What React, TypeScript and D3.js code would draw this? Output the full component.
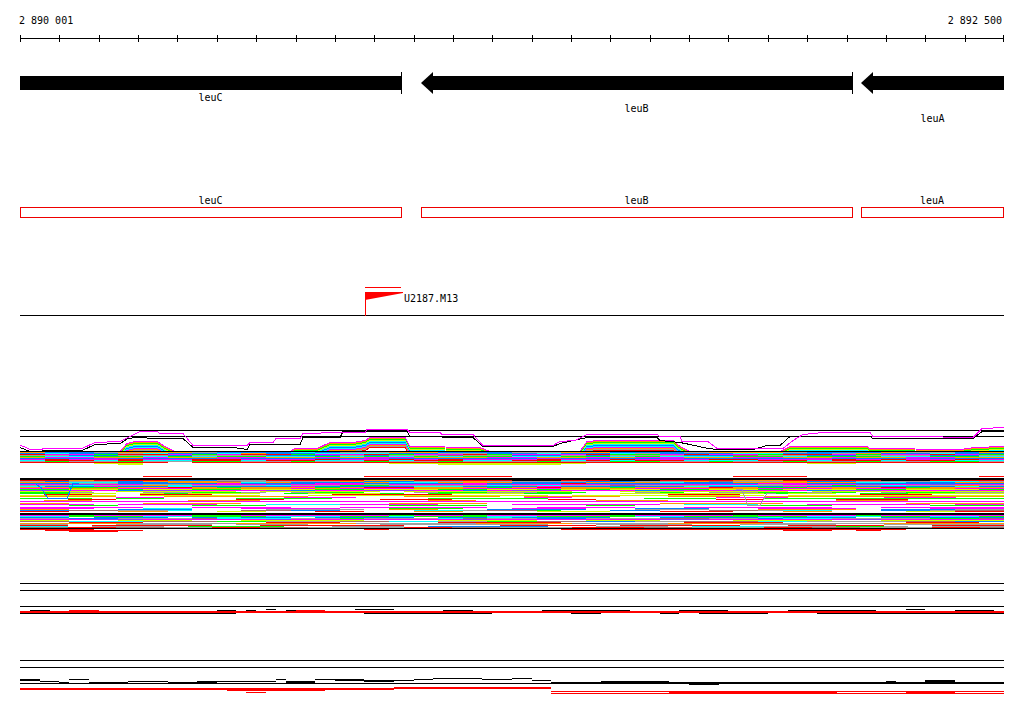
import React, { useEffect, useRef } from 'react';
import * as d3 from 'd3';

const START = 2890001;
const END = 2892500;
const TICK_STEP = 100;
const rulerLabels = ['2 890 001', '2 892 500'];

// genes (all on the minus strand, leuC / leuA run past the window)
const geneNames = ['leuC', 'leuB', 'leuA'];
const geneStarts = [2889550, 2891020, 2892138];
const geneEnds = [2890969, 2892115, 2893100];
const geneLabelRows = [0, 1, 2];

const featureName = 'U2187.M13';
const featureStart = 2890878;
const featureEnd = 2890970;

const COLORS: Record<string, string> = {
  k: '#000000',
  r: '#ff0000',
  g: '#00ff00',
  b: '#0080ff',
  m: '#ff00ff',
  c: '#00ffff',
  o: '#ff9900',
  y: '#ccff00',
  a: '#a0a0a0',
  n: '#a06a6a',
  p: '#9933ff',
};

// alignment profile lines: [bp offset from START, depth]
const guideTop = [[0, 4], [2500, 4]];
const guideSecond = [[0, 10], [2500, 10]];
const envMagenta = [
  [0, 19], [10, 20], [25, 23], [51, 23], [64, 22], [158, 22], [191, 16], [254, 15], [279, 10], [305, 5],
  [348, 5], [356, 7], [414, 7], [440, 19], [577, 19], [584, 16], [643, 16], [650, 12], [711, 12], [719, 7],
  [762, 7], [767, 6], [877, 6], [882, 3], [983, 3], [991, 6], [1067, 6], [1072, 8], [1151, 8], [1176, 19],
  [1354, 19], [1372, 15], [1410, 14], [1441, 8], [1618, 8], [1626, 10], [1677, 10], [1682, 15], [1748, 15],
  [1771, 22], [1939, 22], [1964, 14], [1989, 8], [2040, 6], [2160, 6], [2167, 10], [2269, 10], [2421, 11],
  [2444, 2], [2500, 1],
];
const envBlack = [
  [0, 21], [25, 25], [51, 25], [64, 24], [158, 24], [191, 18], [254, 17], [274, 12], [297, 11], [348, 12],
  [414, 12], [440, 21], [541, 21], [577, 23], [584, 18], [711, 18], [719, 11], [813, 11], [821, 5], [983, 5],
  [991, 10], [1151, 11], [1176, 20], [1354, 20], [1372, 17], [1441, 11], [1618, 11], [1626, 14], [1677, 16],
  [1702, 18], [1748, 22], [1771, 23], [1862, 23], [1898, 19], [1931, 19], [1956, 10], [2160, 10], [2167, 12],
  [2421, 12], [2444, 5], [2500, 5],
];
const envLower = [
  [0, 25], [254, 25], [272, 17], [292, 15], [348, 15], [368, 20], [394, 25], [686, 25], [699, 22], [755, 22],
  [788, 16], [846, 16], [877, 14], [889, 11], [978, 11], [991, 20], [1169, 21], [1194, 25], [1423, 25],
  [1441, 15], [1474, 14], [1659, 14], [1677, 20], [1702, 25], [1931, 25], [1956, 20], [2152, 20], [2160, 22],
  [2388, 23], [2426, 21], [2500, 20],
];
const humpColors = ['o', 'g', 'y', 'c', 'b', 'c', 'm', 'o', 'a', 'r'];
const blueDip = [[40, 58], [53, 61], [71, 72], [119, 72], [135, 57], [150, 57]];
const grayDip = [[1820, 63], [1834, 63], [1850, 79], [1880, 79], [1898, 67], [1920, 67]];

// alignment stripes, one string per pixel row from depth 25 down
const alnRows = [
  'k',
  'obbaoooabbbcbaaoobbbaaoobbbaoooabbboaabo',
  'bcbbacbbcobbcccbbaabbcbbcabbbccbbaobbcbb',
  'rmmgrrmgmrrgmmrgmmrgmmmrggmrmmgrrmgmmrmg',
  'aabbaabaaabbbabaanaabbabaaabbnaabbaaabba',
  'gccggcgcggccgcgcgcggccggcgcccggcgggccggc',
  'ommoomoommoomommooommoomommoommoomoommoo',
  'bbbpbbbbpbbbbbpbbbbbbpbbbbpbbbbbpbbbpbbb',
  'mrmmrmmrrmmmrmmrmrmmmrmmrmmmrrmmmrmrmmrm',
  'crrcrccrrcrrccrcrrccrrcrcrrcccrrcrrcrrcc',
  'agaagaaggaagaagaagaaagaaggaagaagaagaagga',
  'rrrrrr.rrrrrrrrrrrrrrrrrrrrrrrrrrrrrrrrr',
  '...yy..........yyyyyyyy.........yy......',
  '....y............yyyyy..................',
  '', '', '', '', '', '', '', '', '', '', '',
  '.....rr.......rrrrrr.........rrr.......r',
  '',
  'k',
  'k',
  'rrorrrbbaarrrroorrrrkkrrkkrrroorrrrkkrrr',
  'abaabooonaaaaobbaaoaaaabbaaonaaobbaaacca',
  'ooccbbooocobbboccooobbbooocbboooooccbboo',
  'bbaabbbbmbbbmmbbbbmbbbrbbbbbbbmmbbbbbbbb',
  'mmpmmaammmpmmmammmmpmmmmppmmmmammmpmmpmm',
  'aacaaocaaacaaggaaaacacaanaaaccaaagacaaoa',
  'cbbmbbcbbbbmbbbbccbbbmbbbbbcbbbmbbbbbbcb',
  'ooggoorogooogorrooogoroogoooroggooorgooo',
  'mmoommmoooomommmoommmmooommmoommmommoomm',
  'ggyygyyggyyyggyyyggyygygyyggyygyyyggyyyg',
  'ppmmbppmmmpbmmppmmbmppmmmbpmmpmmbppmmmpm',
  'yyy.yyyyy.yyyyy.yyyyyyy..yyyyyyy.yyyyyyyy',
  'gga..aagga.agg..aggaagg..ag.aaggag.aggaa',
  'ggyy.ygyyy.gyyyg.gyyygg..yyyyyygyy.ggyyyy',
  '.rr..rrr.....rrrrr.........rrr.....rrr...',
  'yyyy.yyyyy..yyyyyyyyyy.yyyyyyyy.yyyyyyyyy',
  'oooo..oooooo....oooo.oooo..ooo.oooooooooo',
  '....mm.....mmm.......mm......mmm....mmm..',
  'ggg.gg...gggg....ggggg....ggg..gggggggggg',
  '..rr.....rr....rrr....rr.....rr...rrr....',
  '.oo....ooo.......oo.....ooo.......ooo....',
  'mmmmmmmmmmmmmmmmmmmmmmmmmmmmmmmmmmmmmmmm',
  '',
  'oo...oooo......oooo.......ooooo.....oooo',
  'mmm.mmmm..cccmmmm...mmmmmm.ccc..mmmmm.mm',
  '..gg...ggg.....gggg....gg.....ggg....ggg',
  '',
  'mmmmm..mmmm..mmmmmm..mmmm..mmmmmm..mmmmm',
  'mmm..cc..mmmm..ggg..mmm..bbb..mmmm...mmm',
  'oo..bbb...aaaa.oo..bbbb..aaa..oooo.bbbaa',
  'bbnnaac..nnbb...ccanng..bb..nnacc..bbann',
  'rr..oo..yy..rr..oo...yyy..rrr..oo...yyrr',
  '',
  'k',
  'k',
  'mmgmmmmggmmmmmmgmmgmmmmmgmmmmgmmmmgmmmmm',
  'ccgggccgggcccggcgggccggggccgggggcccggccg',
  'bb.bbb.bcbb.bbbb.bbcbbbb..bbbbcbbb.bbbbb',
  'aabbaaancccaagaaacnaabbaaannaabccaaaaggn',
  'mmmppmmmmmpmmmmmmmpmmmmmmmppmmmmmmpmmmmm',
  'yy..yyy..yyyyy...yyyy..yyy...yyyy..yyyyy',
  'nncccnnnggaaannccaaggnnbbaannnccaaaannbb',
  '..rrr.....rrr....rrrrr.....rrrr.....rrr.',
  'oooooaaaaoooooaaaaaooooaaaaooooaaaaaooooo',
  'aa..aaaa.aaa...aaaaaaa..aaaa..aaaa..aaaaa',
  'rr.rrrrr..rrrrrr....rrrr.rrrrr..rrrr..rrr',
  'cc.aaa.gggg..aaa.bbbbb..aaa.cccaaagga.aaa',
  'nnrrnnaarrnnaaaarrnnaaarrrnnaaarrnnaaarrn',
  'k',
  'rrr...........r.......rrrrrrrrrrrrrr....',
  '.rrrr..........................rr.r.....',
  '..rr....................................',
];

// lower coverage tracks, run-length rows of 25 bp units
const trackARows = [
  'k', '', '', '', '', '', '',
  'k', '', '', '', '', '', '', '', '', '', '', '', '', '', '', '',
  'k', '', '',
  '.25 k1 .8 k4 .52 k2 .8',
  '.1 k2 .2 r3 .12 k2 .1 k1 .3 k1 r3 .12 k3 .7 k9 .5 k5 .6 k9 .8 k4 .1',
  'r100',
  'r100',
  'k22 .13 k13 .8 k3 .6 k2 .2 k7 .5 k19',
];
const trackBRows = [
  'k', '', '', '', '', '', '',
  'k', '', '', '', '', '', '', '', '', '', '',
  '.42 k5 .3 k2 .48',
  'k2 .3 k2 .19 k1 .3 k5 .5 k2 .5 k3 .50',
  'k2 .30 k8 .12 k2 .38 k3 .5',
  '.2 k2 .7 k4 .3 k8 .1 k3 .5 k3 .21 k7 .22 k1 .3 k3 .5',
  '.4 k1 .2 k4 .4 k5 .7 k3 .24 k46',
  'k100',
  '.68 k3 .29',
  '', '',
  '.38 r16 .46',
  'r54 .46',
  'r38 .62',
  '.21 r10 .69',
  '.54 r46',
  '.23 r2 .41 r17 .7 r5 .5',
  '.54 r46',
];

const expandRow = (row: string) => {
  if (!/\d/.test(row)) return row;
  return row.split(' ').map(t => t[0].repeat(parseInt(t.slice(1), 10))).join('');
};

const App: React.FC = () => {
  const svgRef = useRef<SVGSVGElement>(null);

  useEffect(() => {
    if (!svgRef.current) return;
    const svg = d3.select(svgRef.current);
    svg.selectAll('*').remove();

    const font = '"DejaVu Sans Mono", monospace';
    const x = d3.scaleLinear().domain([START, END + 1]).range([20, 1004]);
    const cx = (v: number) => x(Math.max(START, Math.min(END + 1, v)));
    const px = (v: number) => Math.round(v);

    // ruler
    const ruler = svg.append('g').attr('shape-rendering', 'crispEdges');
    ruler.append('line')
      .attr('x1', 20).attr('x2', 1004).attr('y1', 38.5).attr('y2', 38.5)
      .attr('stroke', '#000');
    ruler.selectAll('.tick')
      .data(d3.range(START, END + 2, TICK_STEP))
      .enter()
      .append('line')
      .attr('x1', d => Math.min(px(x(d)), 1003) + 0.5)
      .attr('x2', d => Math.min(px(x(d)), 1003) + 0.5)
      .attr('y1', 35).attr('y2', 42)
      .attr('stroke', '#000');
    svg.append('text')
      .attr('x', 19).attr('y', 24)
      .style('font-family', font).style('font-size', '10px')
      .text(rulerLabels[0]);
    svg.append('text')
      .attr('x', 1002).attr('y', 24).attr('text-anchor', 'end')
      .style('font-family', font).style('font-size', '10px')
      .text(rulerLabels[1]);

    // gene arrows
    const genes = svg.append('g');
    geneNames.forEach((name, i) => {
      const s = geneStarts[i];
      const e = geneEnds[i];
      const x0 = px(cx(s));
      const x1 = px(cx(e));
      const hasHead = s >= START;
      const bodyX0 = hasHead ? x0 + 12 : x0;
      genes.append('rect')
        .attr('x', bodyX0).attr('y', 76).attr('width', x1 - bodyX0).attr('height', 14)
        .attr('fill', '#000').attr('shape-rendering', 'crispEdges');
      if (hasHead) {
        genes.append('path')
          .attr('d', `M${x0},83 L${x0 + 12},72 L${x0 + 12},94 Z`)
          .attr('fill', '#000');
      }
      if (e <= END) {
        genes.append('line')
          .attr('x1', x1 + 0.5).attr('x2', x1 + 0.5).attr('y1', 72).attr('y2', 94)
          .attr('stroke', '#000').attr('shape-rendering', 'crispEdges');
      }
      genes.append('text')
        .attr('x', (x0 + x1) / 2).attr('y', 101 + geneLabelRows[i] * 10.5)
        .attr('text-anchor', 'middle')
        .style('font-family', font).style('font-size', '10px')
        .text(name);
    });

    // gene boxes
    const boxes = svg.append('g');
    geneNames.forEach((name, i) => {
      const x0 = px(cx(geneStarts[i]));
      const x1 = Math.min(px(cx(geneEnds[i])), 1003);
      boxes.append('rect')
        .attr('x', x0 + 0.5).attr('y', 207.5).attr('width', x1 - x0).attr('height', 10)
        .attr('fill', 'none').attr('stroke', '#ee0000').attr('shape-rendering', 'crispEdges');
      boxes.append('text')
        .attr('x', (x0 + x1) / 2).attr('y', 204)
        .attr('text-anchor', 'middle')
        .style('font-family', font).style('font-size', '10px')
        .text(name);
    });

    // feature flag track
    const ft = svg.append('g').attr('shape-rendering', 'crispEdges');
    const f0 = px(x(featureStart));
    const f1 = px(x(featureEnd));
    ft.append('line').attr('x1', 20).attr('x2', 1004).attr('y1', 315.5).attr('y2', 315.5).attr('stroke', '#000');
    ft.append('line').attr('x1', f0 + 0.5).attr('x2', f0 + 0.5).attr('y1', 292).attr('y2', 316).attr('stroke', '#ff0000');
    ft.append('line').attr('x1', f0).attr('x2', f1).attr('y1', 287.5).attr('y2', 287.5).attr('stroke', '#ff0000');
    ft.append('path')
      .attr('d', `M${f0},292 L${f1 + 2},292 L${f1 + 2},293 L${f0},300 Z`)
      .attr('fill', '#ff0000').attr('shape-rendering', 'auto');
    svg.append('text')
      .attr('x', f1 + 3).attr('y', 302)
      .style('font-family', font).style('font-size', '10px')
      .text(featureName);

    // row stripes
    const drawRows = (rows: string[], y0: number) => {
      const g = svg.append('g').attr('shape-rendering', 'crispEdges');
      rows.forEach((raw, ri) => {
        const row = expandRow(raw);
        if (!row.length) return;
        const unit = (END + 1 - START) / row.length;
        let i = 0;
        while (i < row.length) {
          let j = i;
          while (j < row.length && row[j] === row[i]) j++;
          const c = row[i];
          if (c !== '.' && COLORS[c]) {
            const xa = px(x(START + i * unit));
            const xb = px(x(START + j * unit));
            g.append('rect')
              .attr('x', xa).attr('y', y0 + ri).attr('width', xb - xa).attr('height', 1)
              .attr('fill', COLORS[c]);
          }
          i = j;
        }
      });
    };

    // alignment track
    const yAln = d3.scaleLinear().domain([0, 106]).range([426, 532]);
    const line = (shift: number) => d3.line<number[]>()
      .x(d => px(x(START + d[0])))
      .y(d => yAln(d[1] + shift) + 0.5);
    const drawLine = (pts: number[][], color: string, shift = 0) => {
      svg.append('path')
        .attr('d', line(shift)(pts))
        .attr('fill', 'none')
        .attr('stroke', color)
        .attr('stroke-width', 1)
        .attr('shape-rendering', 'crispEdges');
    };
    drawLine(guideTop, '#000');
    drawLine(guideSecond, '#000');
    humpColors.forEach((c, i) => drawLine(envLower, COLORS[c], i + 1));
    drawLine(envLower, COLORS.m);
    drawRows(alnRows, yAln(25));
    drawLine(blueDip, COLORS.b);
    drawLine(grayDip, COLORS.a);
    drawLine(envBlack, '#000');
    drawLine(envMagenta, COLORS.m);

    // lower tracks
    drawRows(trackARows, 583);
    drawRows(trackBRows, 660);
  }, []);

  return (
    <svg
      ref={svgRef}
      width={1024}
      height={714}
      viewBox="0 0 1024 714"
      style={{ position: 'absolute', left: 0, top: 0, background: '#fff' }}
    />
  );
};

export default App;
